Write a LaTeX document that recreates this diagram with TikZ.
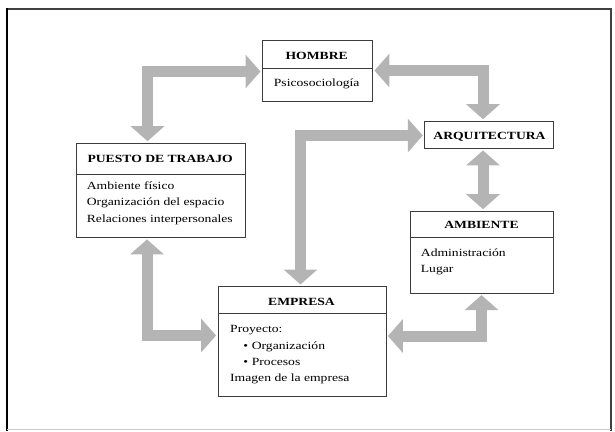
\documentclass[tikz,border=0pt]{standalone}
\usepackage{fontspec}
\setmainfont{Liberation Serif}
\usetikzlibrary{arrows.meta}
\definecolor{arrowgray}{RGB}{180,180,180}
\definecolor{boxline}{RGB}{60,60,60}
\newcommand\sx[1]{\scalebox{1.24}[1]{#1}}
\begin{document}
\begin{tikzpicture}[x=1pt,y=-1pt,
  box/.style={draw=boxline, line width=0.9pt, rectangle, inner sep=0pt, anchor=north west},
  divline/.style={draw=boxline, line width=0.9pt},
  blockarrow/.style={draw=arrowgray, line width=11pt, line join=miter,
    {Triangle[width=33pt,length=15pt]}-{Triangle[width=33pt,length=15pt]},
    shorten <=1.5pt, shorten >=1.5pt},
  ttl/.style={font=\fontsize{11}{16.5}\selectfont\bfseries, inner sep=0pt, anchor=base},
  txt/.style={font=\fontsize{11}{16.5}\selectfont, inner sep=0pt, anchor=base west},
]
\useasboundingbox (0,0) rectangle (615,431);
% frame
\draw[line width=1.8pt, black!75] (6,9) -- (611,9) -- (611,431);
\draw[line width=2pt, black] (7,431) -- (7,8.1);
\draw[line width=0.8pt, black!20] (7,429.5) -- (611,429.5);

% boxes
\node[box, minimum width=110pt, minimum height=61pt] (hombre) at (262,40) {};
\node[box, minimum width=169pt, minimum height=94.3pt] (puesto) at (75.7,142.7) {};
\node[box, minimum width=128.7pt, minimum height=27.3pt] (arq) at (424.3,120.7) {};
\node[box, minimum width=143pt, minimum height=82pt] (amb) at (410,210.7) {};
\node[box, minimum width=167.9pt, minimum height=110pt] (empresa) at (217.6,286) {};

\draw[divline] (hombre.west |- 0,68.3) -- (hombre.east |- 0,68.3);
\draw[divline] (puesto.west |- 0,174) -- (puesto.east |- 0,174);
\draw[divline] (amb.west |- 0,237.7) -- (amb.east |- 0,237.7);
\draw[divline] (empresa.west |- 0,313.3) -- (empresa.east |- 0,313.3);

% texts
\node[ttl] (hombreT) at (316.7,59.3) {\sx{HOMBRE}};
\node[txt, anchor=base] (hombreB) at (316.7,86.5) {\sx{Psicosociología}};
\node[ttl] (puestoT) at (160.2,162.3) {\sx{PUESTO DE TRABAJO}};
\node[txt] (puestoB) at (86.7,189.3) {\sx{\begin{tabular}[t]{@{}l@{}}Ambiente físico\\ Organización del espacio\\ Relaciones interpersonales\end{tabular}}};
\node[ttl] (arqT) at (489.5,139.3) {\sx{ARQUITECTURA}};
\node[ttl] (ambT) at (481.5,228.3) {\sx{AMBIENTE}};
\node[txt, font=\fontsize{11}{15.8}\selectfont] (ambB) at (420.7,256.7) {\sx{\begin{tabular}[t]{@{}l@{}}Administración\\ Lugar\end{tabular}}};
\node[ttl] (empT) at (301.5,305) {\sx{EMPRESA}};
\node[txt, font=\fontsize{11}{16.2}\selectfont] (empB) at (230,332.8) {\sx{\begin{tabular}[t]{@{}l@{}}Proyecto:\\ \hspace*{10.7pt}•\hspace{2.9pt}Organización\\ \hspace*{10.7pt}•\hspace{2.9pt}Procesos\\ Imagen de la empresa\end{tabular}}};

% block arrows
\draw[blockarrow] (puesto.north -| 147.5,0) -- (147.5,71.5) -- (hombre.west |- 0,71.5);
\draw[blockarrow] (hombre.east |- 0,70.5) -- (483,70.5) -- (arq.north -| 483,0);
\draw[blockarrow] (empresa.north -| 300.5,0) -- (300.5,135.5) -- (arq.west |- 0,135.5);
\draw[blockarrow] (arq.south -| 483,0) -- (amb.north -| 483,0);
\draw[blockarrow] (amb.south -| 481.5,0) -- (481.5,336) -- (empresa.east |- 0,336);
\draw[blockarrow] (puesto.south -| 147,0) -- (147,335.5) -- (empresa.west |- 0,335.5);
\end{tikzpicture}
\end{document}
